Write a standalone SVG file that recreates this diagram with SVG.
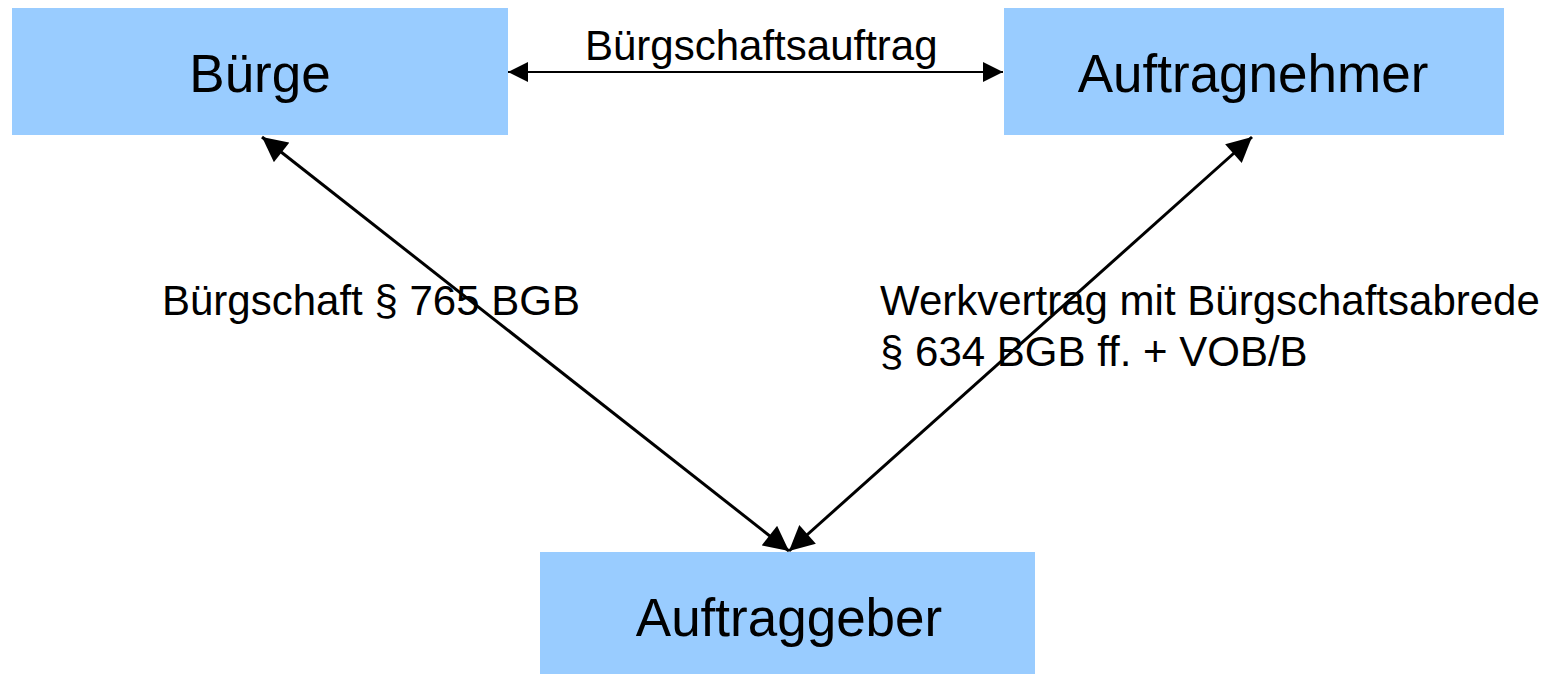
<svg xmlns="http://www.w3.org/2000/svg" width="1562" height="674" viewBox="0 0 1562 674">
  <style>
    .box { fill: #99ccff; }
    .node-text { font-family: "Liberation Sans", Arial, sans-serif; font-size: 53px; fill: #000; text-anchor: middle; }
    .label { font-family: "Liberation Sans", Arial, sans-serif; font-size: 42px; fill: #000; }
    .link { stroke: #000; fill: none; }
    .thin { stroke-width: 2; }
    .thick { stroke-width: 3; }
  </style>
  <defs>
    <marker id="headSmall" viewBox="0 0 10 10" refX="10" refY="5" markerWidth="10" markerHeight="10" markerUnits="strokeWidth" orient="auto-start-reverse">
      <path d="M0,0 L10,5 L0,10 Z" fill="#000"/>
    </marker>
    <marker id="headLarge" viewBox="0 0 10 10" refX="10" refY="5" markerWidth="8.7" markerHeight="8.3" markerUnits="strokeWidth" orient="auto-start-reverse">
      <path d="M0,0 L10,5 L0,10 Z" fill="#000"/>
    </marker>
  </defs>

  <g id="node-buerge">
    <rect class="box" x="12" y="8" width="496" height="127"/>
    <text class="node-text" x="260" y="92">Bürge</text>
  </g>
  <g id="node-auftragnehmer">
    <rect class="box" x="1004" y="8" width="500" height="127"/>
    <text class="node-text" x="1253" y="92">Auftragnehmer</text>
  </g>
  <g id="node-auftraggeber">
    <rect class="box" x="540" y="552" width="495" height="122"/>
    <text class="node-text" x="789" y="636">Auftraggeber</text>
  </g>

  <g id="connectors">
    <line class="link thin" x1="508" y1="72" x2="1003" y2="72" marker-start="url(#headSmall)" marker-end="url(#headSmall)"/>
    <line class="link thick" x1="262" y1="137" x2="789" y2="551" marker-start="url(#headLarge)" marker-end="url(#headLarge)"/>
    <line class="link thick" x1="1252" y1="137" x2="789" y2="551" marker-start="url(#headLarge)" marker-end="url(#headLarge)"/>
  </g>

  <g id="labels">
    <text class="label" x="585" y="60">Bürgschaftsauftrag</text>
    <text class="label" x="162" y="315">Bürgschaft § 765 BGB</text>
    <text class="label" x="880" y="315">Werkvertrag mit Bürgschaftsabrede</text>
    <text class="label" x="880" y="366">§ 634 BGB ff. + VOB/B</text>
  </g>
</svg>
